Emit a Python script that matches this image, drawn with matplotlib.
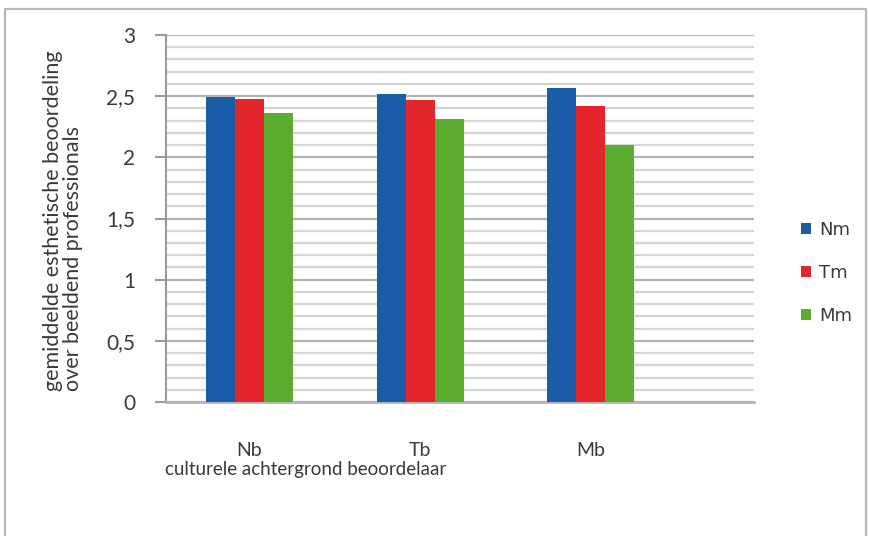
import matplotlib.pyplot as plt
import matplotlib
import numpy as np
from matplotlib.patches import Rectangle
from matplotlib.ticker import MultipleLocator, FuncFormatter

matplotlib.rcParams['font.family'] = ['Lato', 'DejaVu Sans']

# gemiddelde beoordelingen per culturele achtergrond
categories = ['Nb', 'Tb', 'Mb']
series_names = ['Nm', 'Tm', 'Mm']
nm_values = [2.49, 2.52, 2.565]
tm_values = [2.475, 2.47, 2.42]
mm_values = [2.36, 2.31, 2.10]

colors = ['#1a5ca8', '#e2262b', '#5cad2f']
text_color = '#3a3a3a'

fig = plt.figure(figsize=(8.69, 5.36), dpi=100)
ax = fig.add_axes([166 / 869, 1 - 402 / 536, (754 - 166) / 869, (402 - 35) / 536])

x = np.arange(len(categories))
width = 0.17
for i, (vals, name, col) in enumerate(zip([nm_values, tm_values, mm_values], series_names, colors)):
    ax.bar(x + (i - 1) * width, vals, width, color=col, label=name, zorder=3)

ax.set_ylim(0, 3)
ax.set_xlim(-0.489, 2.955)

# rasterlijnen: fijn per 0,1 en iets donkerder per 0,5
ax.yaxis.set_major_locator(MultipleLocator(0.5))
ax.yaxis.set_minor_locator(MultipleLocator(0.1))
ax.grid(which='minor', axis='y', color='#d6d6d6', linewidth=1.6, zorder=0)
ax.grid(which='major', axis='y', color='#b4b4b4', linewidth=1.6, zorder=0)
ax.set_axisbelow(True)

ax.yaxis.set_major_formatter(FuncFormatter(lambda v, p: f'{v:g}'.replace('.', ',')))
ax.tick_params(axis='y', which='major', length=8, width=1.5, color='#9a9a9a',
               pad=14, labelsize=15, labelcolor=text_color)
ax.tick_params(axis='y', which='minor', length=0)
ax.set_xticks(x)
ax.set_xticklabels(categories)
ax.tick_params(axis='x', length=0, pad=29, labelsize=14, labelcolor=text_color)

for side in ['top', 'right']:
    ax.spines[side].set_visible(False)
ax.spines['left'].set_color('#9a9a9a')
ax.spines['left'].set_linewidth(1.5)
ax.spines['bottom'].set_color('#b4b4b4')
ax.spines['bottom'].set_linewidth(2)

fig.text(63 / 869, 1 - 391 / 536,
         'gemiddelde esthetische beoordeling\nover beeldend professionals',
         rotation=90, fontsize=15.5, color=text_color, ha='center', va='bottom',
         multialignment='left', linespacing=1.05)

fig.text(165 / 869, 1 - 469 / 536, 'culturele achtergrond beoordelaar',
         fontsize=13.5, color=text_color, ha='left', va='center')

leg = fig.legend(loc='center left', bbox_to_anchor=(792 / 869, 1 - 273 / 536),
                 frameon=False, prop={'family': 'DejaVu Sans', 'size': 13},
                 handlelength=0.55, handleheight=0.55,
                 handletextpad=0.45, labelspacing=1.4, borderpad=0)
for t in leg.get_texts():
    t.set_color(text_color)

# kader rond de figuur
fig.patches.append(Rectangle((5 / 869, -0.05), (866 - 5) / 869, 1.05 - 9 / 536,
                             transform=fig.transFigure, fill=False,
                             edgecolor='#b8b8b8', linewidth=1.6))

plt.savefig('out.png', dpi=100, facecolor='white')
plt.close()
